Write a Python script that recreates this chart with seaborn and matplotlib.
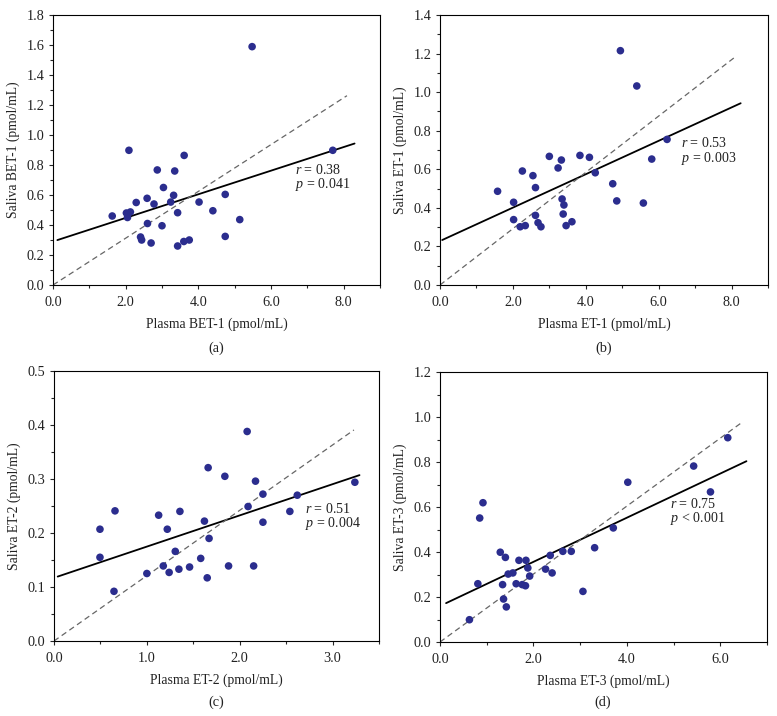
import numpy as np
import pandas as pd
import matplotlib
matplotlib.use("Agg")
import matplotlib.pyplot as plt
from matplotlib.ticker import MultipleLocator, FormatStrFormatter
import seaborn as sns

sns.set_style("white")
plt.rcParams['font.family'] = ['Liberation Serif', 'DejaVu Serif']
plt.rcParams['mathtext.fontset'] = 'custom'
plt.rcParams['mathtext.it'] = 'Liberation Serif:italic'
plt.rcParams['mathtext.rm'] = 'Liberation Serif'

# ---------------- data ----------------
a_x = [1.63, 2.02, 2.05, 2.13, 2.09, 2.29, 2.41, 2.44, 2.59, 2.60, 2.70, 2.78, 2.87, 3.00, 3.04,
       3.24, 3.32, 3.35, 3.43, 3.43, 3.60, 3.61, 3.75, 4.02, 4.40, 4.74, 4.74, 5.14, 5.48, 7.70]
a_y = [0.46, 0.48, 0.45, 0.487, 0.898, 0.55, 0.32, 0.30, 0.578, 0.41, 0.28, 0.54, 0.767, 0.395, 0.65,
       0.553, 0.598, 0.76, 0.482, 0.26, 0.29, 0.864, 0.30, 0.553, 0.495, 0.604, 0.324, 0.436, 1.589, 0.898]

b_x = [1.58, 2.02, 2.02, 2.20, 2.26, 2.34, 2.55, 2.62, 2.62, 2.69, 2.77, 3.00, 3.24, 3.33, 3.35,
       3.38, 3.40, 3.46, 3.62, 3.84, 4.10, 4.26, 4.74, 4.85, 4.95, 5.40, 5.58, 5.81, 6.23]
b_y = [0.486, 0.429, 0.339, 0.302, 0.591, 0.308, 0.567, 0.505, 0.361, 0.323, 0.302, 0.667, 0.607, 0.648, 0.446,
       0.368, 0.415, 0.308, 0.328, 0.672, 0.662, 0.582, 0.525, 0.436, 1.215, 1.032, 0.425, 0.653, 0.755]

c_x = [0.495, 0.495, 0.657, 0.646, 1.00, 1.127, 1.177, 1.22, 1.24, 1.306, 1.345, 1.356, 1.46, 1.58, 1.62,
       1.65, 1.66, 1.67, 1.84, 1.88, 2.08, 2.09, 2.15, 2.17, 2.25, 2.25, 2.54, 2.62, 3.24]
c_y = [0.207, 0.155, 0.241, 0.092, 0.125, 0.233, 0.139, 0.207, 0.127, 0.166, 0.133, 0.240, 0.137, 0.153, 0.222,
       0.117, 0.321, 0.190, 0.305, 0.139, 0.388, 0.249, 0.139, 0.296, 0.272, 0.220, 0.240, 0.270, 0.294]

d_x = [0.63, 0.81, 0.85, 0.92, 1.29, 1.34, 1.36, 1.40, 1.42, 1.46, 1.56, 1.63, 1.69, 1.76, 1.83,
       1.84, 1.88, 1.92, 2.26, 2.36, 2.40, 2.63, 2.81, 3.06, 3.31, 3.71, 4.02, 5.43, 5.79, 6.16]
d_y = [0.099, 0.259, 0.551, 0.619, 0.399, 0.255, 0.191, 0.376, 0.156, 0.302, 0.307, 0.259, 0.363, 0.255, 0.250,
       0.363, 0.329, 0.293, 0.324, 0.385, 0.307, 0.403, 0.403, 0.225, 0.419, 0.507, 0.710, 0.782, 0.667, 0.908]

x_labels = ["Plasma BET-1 (pmol/mL)", "Plasma ET-1 (pmol/mL)", "Plasma ET-2 (pmol/mL)", "Plasma ET-3 (pmol/mL)"]
y_labels = ["Saliva BET-1 (pmol/mL)", "Saliva ET-1 (pmol/mL)", "Saliva ET-2 (pmol/mL)", "Saliva ET-3 (pmol/mL)"]
panel_tags = ["(a)", "(b)", "(c)", "(d)"]
r_vals = ["0.38", "0.53", "0.51", "0.75"]
p_texts = ["= 0.041", "= 0.003", "= 0.004", "< 0.001"]

# regression line: intercept, slope, x start, x end
fit_intercept = [0.290, 0.228, 0.117, 0.160]
fit_slope = [0.0787, 0.0866, 0.0578, 0.0981]
fit_x0 = [0.12, 0.06, 0.04, 0.13]
fit_x1 = [8.30, 8.25, 3.29, 6.56]
# dashed reference line through origin: slope, x end
ref_slope = [0.156, 0.146, 0.121, 0.151]
ref_x1 = [8.09, 8.09, 3.23, 6.49]

x_max = [9.0, 9.0, 3.5, 7.0]
y_max = [1.8, 1.4, 0.5, 1.2]
x_major = [2.0, 2.0, 1.0, 2.0]
y_major = [0.2, 0.2, 0.1, 0.2]
# annotation anchor (x, y of r line, y of p line) in data units
text_pos = [(6.66, 0.767, 0.670), (6.61, 0.735, 0.655), (2.70, 0.2444, 0.2176), (4.92, 0.613, 0.549)]

datasets = [(a_x, a_y), (b_x, b_y), (c_x, c_y), (d_x, d_y)]

# ---------------- figure ----------------
W, H = 777, 716
fig = plt.figure(figsize=(W / 100, H / 100), dpi=100)
rects_px = [(53, 15, 380, 285), (440, 15, 768, 285), (54, 371, 379, 641), (440, 372, 767, 642)]
tag_px = [(216, 348), (604, 348), (216, 702), (603, 702)]
dot_color = "#2b2d8e"
FS = 9.8

for i, (xs, ys) in enumerate(datasets):
    l, t, r, b = rects_px[i]
    ax = fig.add_axes([l / W, 1 - b / H, (r - l) / W, (b - t) / H])
    df = pd.DataFrame({"x": xs, "y": ys})
    sns.scatterplot(data=df, x="x", y="y", ax=ax, color=dot_color, s=30, edgecolor="none", zorder=3)
    fx = np.array([fit_x0[i], fit_x1[i]])
    ax.plot(fx, fit_intercept[i] + fit_slope[i] * fx, color="black", lw=1.3, zorder=2)
    rx = np.array([0.0, ref_x1[i]])
    ax.plot(rx, ref_slope[i] * rx, color="#666666", lw=0.9, ls=(0, (4.5, 3)), zorder=2)
    ax.set_xlim(0, x_max[i])
    ax.set_ylim(0, y_max[i])
    ax.xaxis.set_major_locator(MultipleLocator(x_major[i]))
    ax.xaxis.set_minor_locator(MultipleLocator(x_major[i] / 2))
    ax.yaxis.set_major_locator(MultipleLocator(y_major[i]))
    ax.yaxis.set_minor_locator(MultipleLocator(y_major[i] / 2))
    ax.xaxis.set_major_formatter(FormatStrFormatter("%.1f"))
    ax.yaxis.set_major_formatter(FormatStrFormatter("%.1f"))
    ax.tick_params(axis="both", which="major", direction="out", length=3.2, width=0.8,
                   labelsize=FS + 0.5, bottom=True, left=True, top=False, right=False,
                   labelcolor="#222222")
    ax.tick_params(axis="x", which="major", pad=4.5)
    ax.tick_params(axis="y", which="major", pad=3)
    ax.tick_params(axis="both", which="minor", direction="out", length=2.5, width=0.8,
                   bottom=True, left=True, top=False, right=False)
    for sp in ax.spines.values():
        sp.set_visible(True)
        sp.set_color("black")
        sp.set_linewidth(0.8)
    ax.set_xlabel(x_labels[i], fontsize=FS, color="#222222", labelpad=6)
    ax.set_ylabel(y_labels[i], fontsize=FS, color="#222222", labelpad=5)
    tx, ty1, ty2 = text_pos[i]
    ax.text(tx, ty1, r"$\mathit{r}$ = " + r_vals[i], fontsize=FS + 0.3, va="center", ha="left",
            color="#222222")
    ax.text(tx, ty2, r"$\mathit{p}$ " + p_texts[i], fontsize=FS + 0.3, va="center", ha="left",
            color="#222222")
    fig.text(tag_px[i][0] / W, 1 - tag_px[i][1] / H, panel_tags[i], fontsize=FS + 0.5,
             ha="center", va="center", color="#222222")

fig.savefig("out.png", dpi=100)
